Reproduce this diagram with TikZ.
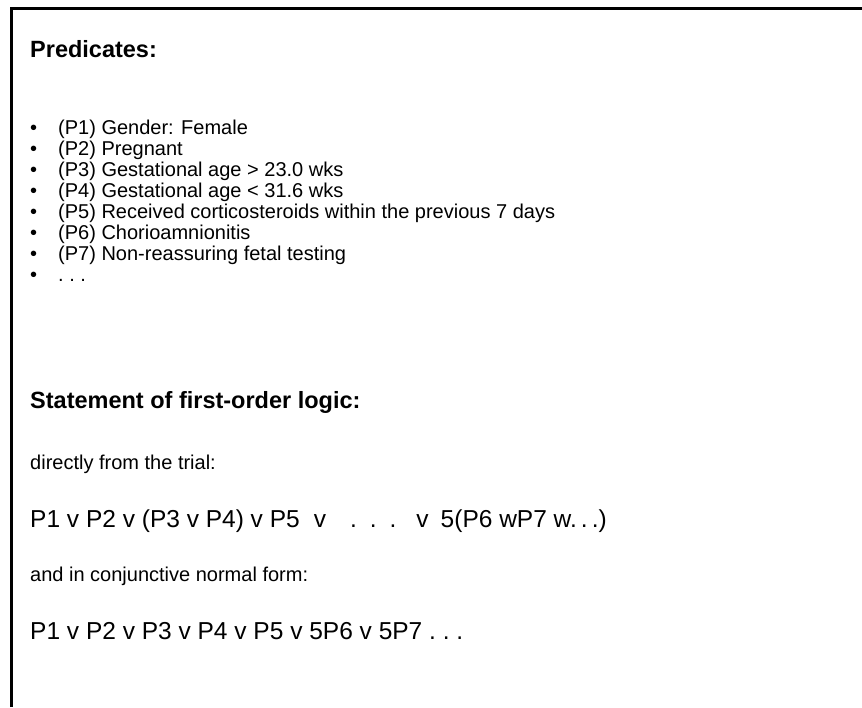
\documentclass[tikz,border=0pt]{standalone}
\usepackage{fontspec}
\setmainfont{Liberation Sans}
\usepackage{tikz}

\begin{document}
\begin{tikzpicture}[x=1pt, y=-1pt,
  body/.style={anchor=base west, inner sep=0pt, font=\fontsize{20}{24}\selectfont},
  logic/.style={anchor=base west, inner sep=0pt, font=\fontsize{24.5}{29}\selectfont},
  head/.style={anchor=base west, inner sep=0pt, font=\fontsize{23.5}{28}\selectfont\bfseries}]
  \useasboundingbox (0,0) rectangle (862,707);
  % open frame
  \draw[line width=3pt] (11.5,707) -- (11.5,8) -- (862,8);
  % predicates
  \node[head] (pred) at (30,57) {Predicates:};
  \foreach \txt [count=\i] in {(P1) Gender: Female, (P2) Pregnant,
      (P3) Gestational age > 23.0 wks, (P4) Gestational age < 31.6 wks,
      (P5) Received corticosteroids within the previous 7 days,
      (P6) Chorioamnionitis, (P7) Non-reassuring fetal testing} {
    \node[body] (b\i) at (30,{113+21*\i}) {\textbullet};
    \node[body] (p\i) at (58,{113+21*\i}) {\txt};
  }
  \node[body] (b8) at (30,281) {\textbullet};
  \node[body] (p8) at (58,281) {.\ .\ .};
  % logic statement
  \node[head] (stmt) at (30,408) {Statement of first-order logic:};
  \node[body] (direct) at (30,469) {directly from the trial:};
  \node[logic] (trial) at (30,527) {P1 v P2 v (P3 v P4) v P5\hspace{14pt}v\hspace{24pt}.\hspace{13pt}.\hspace{13pt}.\hspace{20pt}v\hspace{12pt}5(P6 wP7 w.\,.\,.)};
  \node[body] (cnftxt) at (30,581) {and in conjunctive normal form:};
  \node[logic] (cnf) at (30,639) {P1 v P2 v P3 v P4 v P5 v 5P6 v 5P7 .\ .\ .};
\end{tikzpicture}
\end{document}
